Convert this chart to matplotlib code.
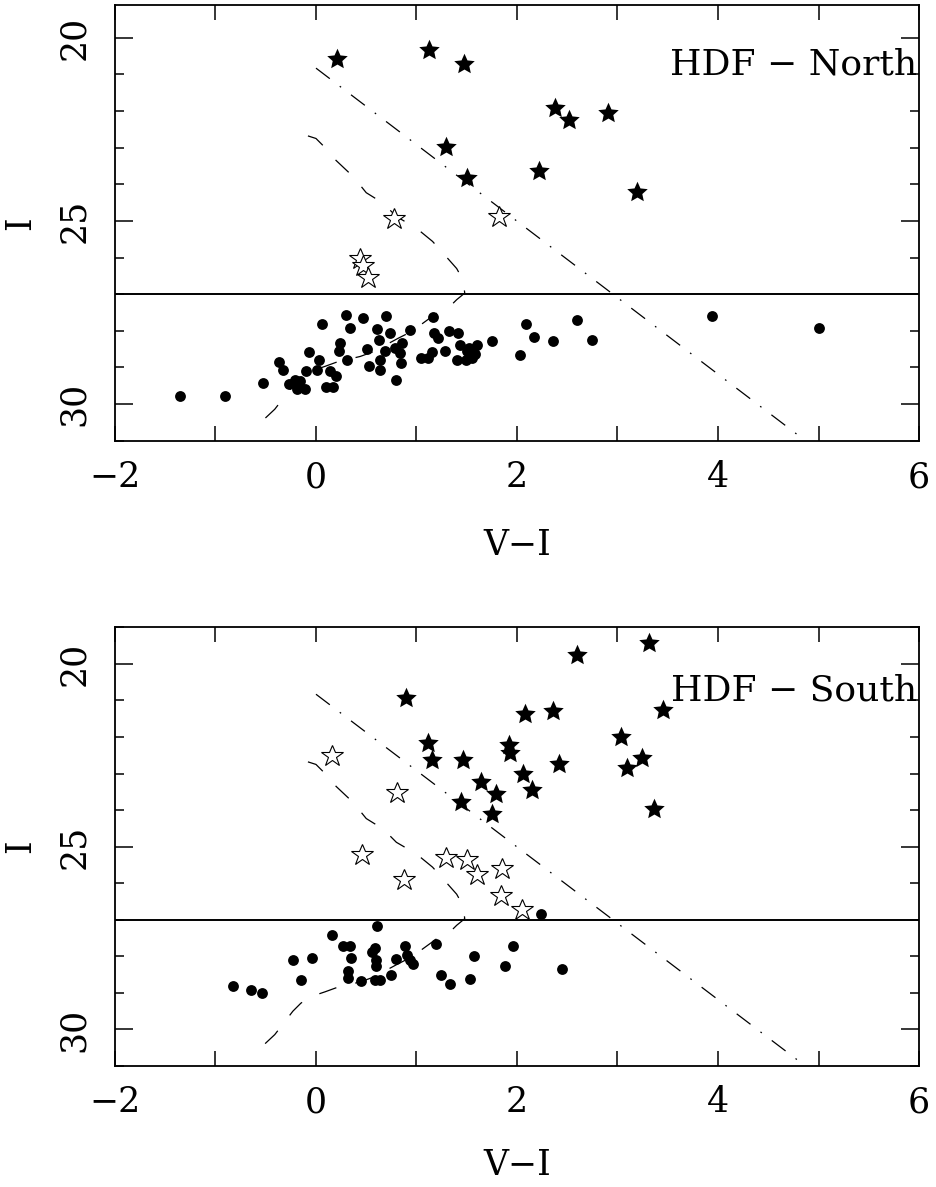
import matplotlib
matplotlib.use('Agg')
import matplotlib.pyplot as plt
from matplotlib.path import Path
from matplotlib.ticker import MultipleLocator, FuncFormatter

plt.rcParams['font.family'] = ['DejaVu Serif']
plt.rcParams['lines.scale_dashes'] = False
plt.rcParams['axes.unicode_minus'] = True

# ---- HDF North ----
northStarVI = [0.21, 1.12, 1.47, 1.29, 1.50, 2.38, 2.52, 2.91, 2.22, 3.19]
northStarI = [20.59, 20.34, 20.73, 22.97, 23.84, 21.93, 22.24, 22.06, 23.65, 24.20]

northOpenVI = [0.78, 1.82, 0.44, 0.47, 0.52]
northOpenI = [24.95, 24.88, 26.05, 26.22, 26.56]

northDotVI = [-1.35, -0.905, -0.53, -0.365, -0.325, -0.27, -0.21, -0.16, -0.19, -0.11,
              -0.10, -0.07, 0.03, 0.013, 0.06, 0.096, 0.166, 0.14, 0.20, 0.24,
              0.23, 0.295, 0.34, 0.304, 0.464, 0.51, 0.53, 0.61, 0.63, 0.64,
              0.64, 0.69, 0.70, 0.74, 0.80, 0.786, 0.836, 0.85, 0.86, 0.94,
              1.04, 1.11, 1.15, 1.16, 1.17, 1.21, 1.28, 1.32, 1.41, 1.43,
              1.40, 1.49, 1.50, 1.52, 1.60, 1.75, 1.55, 1.58, 2.03, 2.09,
              2.17, 2.36, 2.60, 2.75, 3.94, 5.005]
northDotI = [29.77, 29.79, 29.43, 28.85, 29.06, 29.45, 29.34, 29.38, 29.58, 29.58,
             29.11, 28.59, 28.79, 29.06, 27.81, 29.54, 29.54, 29.11, 29.23, 28.34,
             28.54, 27.56, 27.93, 28.81, 27.65, 28.50, 28.97, 27.95, 28.26, 28.81,
             29.06, 28.56, 27.59, 28.05, 29.34, 28.47, 28.61, 28.88, 28.34, 27.99,
             28.75, 28.75, 28.57, 27.63, 28.05, 28.20, 28.54, 28.00, 28.05, 28.38,
             28.79, 28.81, 28.56, 28.47, 28.38, 28.27, 28.75, 28.64, 28.66, 27.81,
             28.18, 28.29, 27.70, 28.25, 27.59, 27.93]

# ---- HDF South ----
southStarVI = [0.90, 1.11, 1.15, 1.46, 1.44, 1.64, 1.79, 1.75, 1.92, 1.93, 2.06,
               2.08, 2.15, 2.36, 2.42, 2.60, 3.03, 3.09, 3.24, 3.31, 3.36, 3.45]
southStarI = [20.94, 22.17, 22.62, 22.64, 23.77, 23.23, 23.56, 24.11, 22.23, 22.45, 23.00,
              21.36, 23.44, 21.29, 22.73, 19.75, 22.00, 22.84, 22.57, 19.43, 23.97, 21.25]

southOpenVI = [0.16, 0.81, 0.46, 0.88, 1.29, 1.50, 1.60, 1.85, 1.84, 2.05]
southOpenI = [22.52, 23.53, 25.23, 25.91, 25.32, 25.36, 25.77, 25.62, 26.35, 26.73]

southDotVI = [-0.83, -0.65, -0.54, -0.23, -0.15, -0.04, 0.16, 0.27, 0.34, 0.35,
              0.32, 0.32, 0.45, 0.56, 0.59, 0.60, 0.60, 0.61, 0.59, 0.64,
              0.75, 0.80, 0.89, 0.91, 0.94, 0.97, 1.19, 1.24, 1.33, 1.53,
              1.57, 1.88, 1.96, 2.24, 2.45]
southDotI = [28.80, 28.93, 29.00, 28.09, 28.66, 28.04, 27.41, 27.73, 27.73, 28.04,
             28.41, 28.59, 28.68, 27.89, 27.77, 28.09, 28.25, 27.18, 28.64, 28.64,
             28.52, 28.06, 27.71, 27.95, 28.09, 28.20, 27.66, 28.52, 28.75, 28.61,
             28.00, 28.25, 27.71, 26.84, 28.34]

# model track (dashed) and colour cut (dash-dot), same in both fields
trackVI = [-0.08, 0.0, 0.08, 0.20, 0.37, 0.50, 0.67, 0.80, 1.00, 1.16, 1.30, 1.40,
           1.44, 1.47, 1.48, 1.40, 1.33, 1.20, 0.95, 0.82, 0.57, 0.44, 0.22, 0.09,
           -0.05, -0.15, -0.23, -0.30, -0.41, -0.55]
trackI = [22.68, 22.75, 22.97, 23.35, 23.79, 24.23, 24.52, 24.88, 25.20, 25.56, 25.99, 26.30,
          26.50, 26.75, 26.97, 27.15, 27.34, 27.52, 28.02, 28.20, 28.57, 28.70, 28.84, 28.97,
          29.10, 29.28, 29.50, 29.75, 30.14, 30.50]
cutVI = [0.0, 4.87]
cutI = [20.83, 31.0]
limitI = 27.0

# a slightly fatter five-pointed star for the filled symbols
fatStar = Path.unit_regular_star(5, 0.47)


def evenOnly(val, pos):
    if int(round(val)) % 2 == 0:
        return '%d' % round(val) if val >= 0 else '\u2212%d' % round(-val)
    return ''


def drawPanel(ax, dotVI, dotI, starVI, starI, openVI, openI, label, ytop):
    ax.plot(trackVI, trackI, color='black', lw=0.9, dashes=(13, 14))
    ax.plot(cutVI, cutI, color='black', lw=0.9, dashes=(12.5, 9, 1.2, 9))
    ax.axhline(limitI, color='black', lw=1.4)
    ax.plot(dotVI, dotI, 'o', color='black', ms=7.8, mew=0)
    ax.plot(starVI, starI, marker=fatStar, ls='none', color='black', ms=15.5, mew=0)
    ax.plot(openVI, openI, '*', mfc='white', mec='black', ms=16.5, mew=0.8)
    ax.text(5.98, 20.72, label, ha='right', va='center', fontsize=26)

    ax.set_xlim(-2, 6)
    ax.set_ylim(31, ytop)
    ax.xaxis.set_major_locator(MultipleLocator(1))
    ax.xaxis.set_major_formatter(FuncFormatter(evenOnly))
    ax.yaxis.set_major_locator(MultipleLocator(5))
    ax.yaxis.set_minor_locator(MultipleLocator(1))
    ax.tick_params(axis='x', which='major', direction='in', top=True, length=11,
                   width=1.1, labelsize=25, pad=14)
    ax.tick_params(axis='y', which='major', direction='in', right=True, length=13,
                   width=1.1, labelsize=25, pad=17, labelrotation=90)
    ax.tick_params(axis='y', which='minor', direction='in', right=True, length=6.5, width=1.1)
    for lab in ax.get_yticklabels():
        lab.set_va('center')
    for sp in ax.spines.values():
        sp.set_linewidth(1.3)

    ax.set_xlabel('V\u2212I', fontsize=25)
    ax.set_ylabel('I', fontsize=25, rotation=90)
    ax.xaxis.label.set_va('center')
    ax.yaxis.label.set_va('center')


fig = plt.figure(figsize=(9.37, 11.87), dpi=100)
axNorth = fig.add_axes([0.1227, 0.6287, 0.8581, 0.3673])
axSouth = fig.add_axes([0.1227, 0.1019, 0.8581, 0.3696])

drawPanel(axNorth, northDotVI, northDotI, northStarVI, northStarI, northOpenVI, northOpenI,
          'HDF \u2212 North', 19.1)
drawPanel(axSouth, southDotVI, southDotI, southStarVI, southStarI, southOpenVI, southOpenI,
          'HDF \u2212 South', 19.0)

axNorth.xaxis.set_label_coords(0.5, -0.239)
axNorth.yaxis.set_label_coords(-0.118, 0.5)
axSouth.xaxis.set_label_coords(0.5, -0.226)
axSouth.yaxis.set_label_coords(-0.118, 0.5)

fig.savefig('out.png', dpi=100)
